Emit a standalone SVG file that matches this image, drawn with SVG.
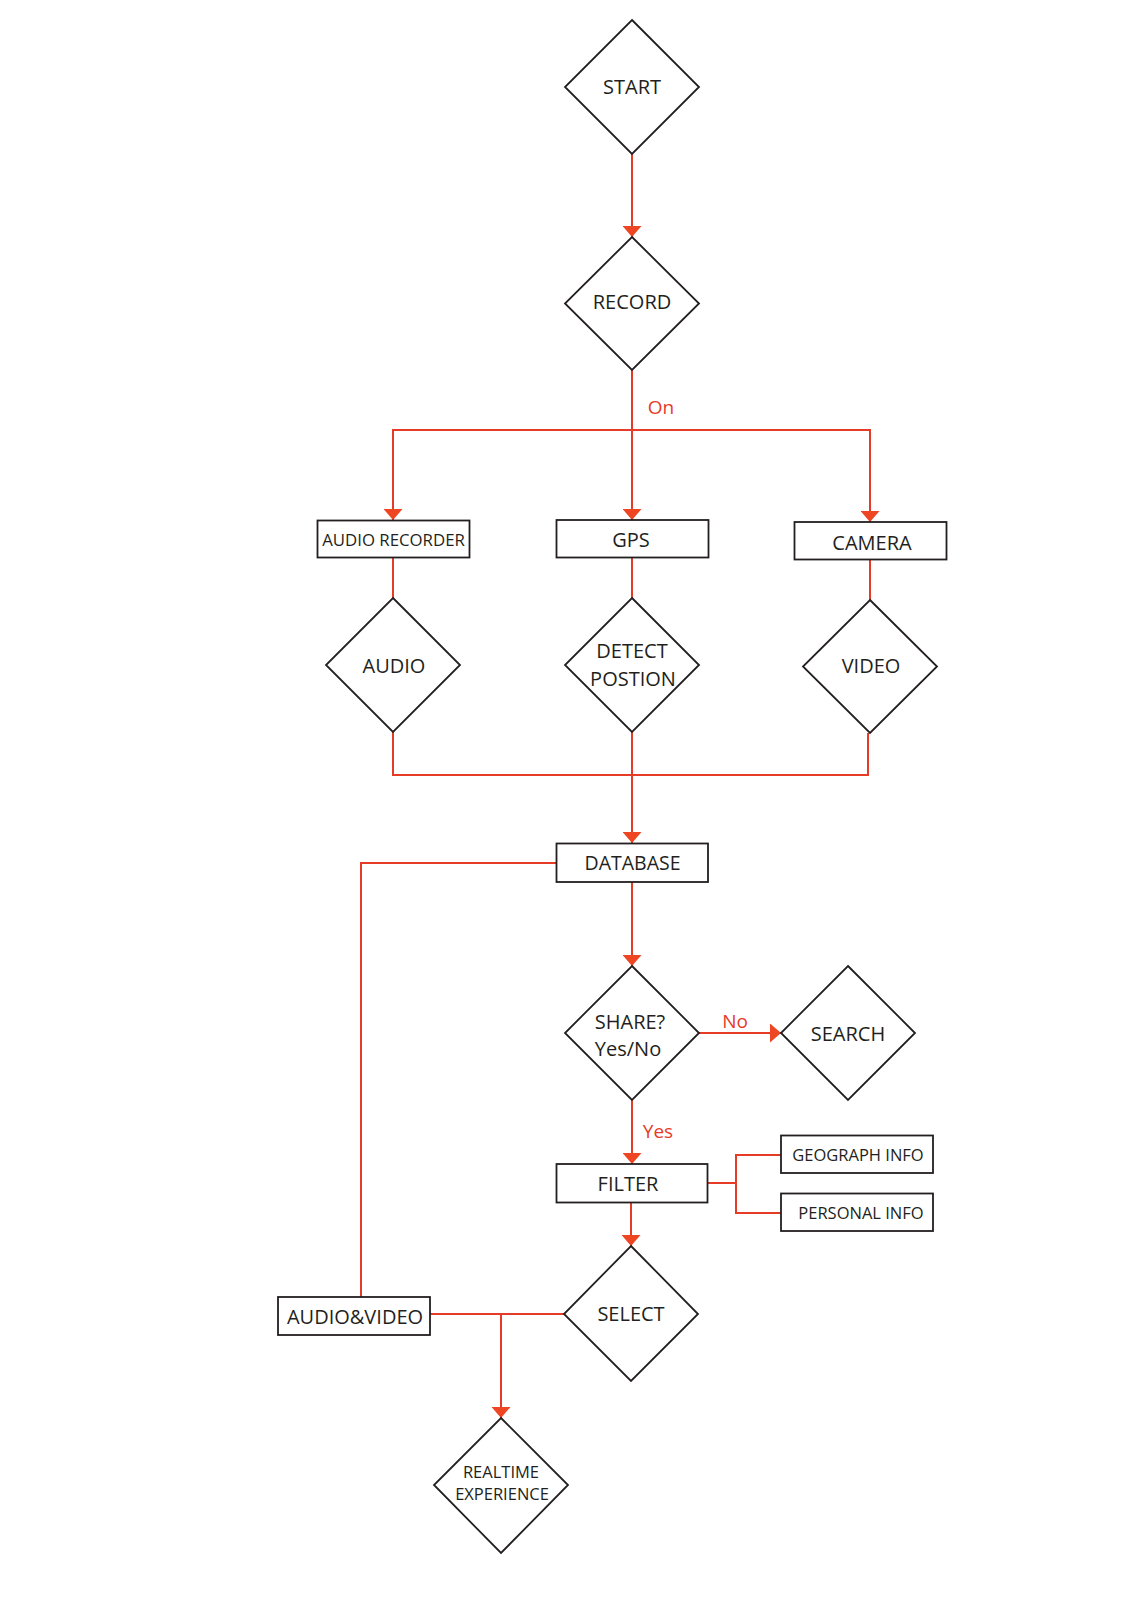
<svg xmlns="http://www.w3.org/2000/svg" width="1131" height="1600" viewBox="0 0 1131 1600">
<style>
.n{fill:#fff;stroke:#231f20;stroke-width:1.8}
.t{font-family:"Open Sans","Noto Sans",sans-serif;fill:#231f20;text-anchor:middle;dominant-baseline:central}
.c{fill:none;stroke:#e63b27;stroke-width:2}
.l{font-family:"Open Sans","Noto Sans",sans-serif;fill:#e63b27;font-size:19px;text-anchor:middle;dominant-baseline:central}
</style>
<defs>
<marker id="ah" viewBox="0 0 11 19" refX="11" refY="9.5" markerWidth="11" markerHeight="19" markerUnits="userSpaceOnUse" orient="auto">
<path d="M0,0 L11,9.5 L0,19 z" fill="#ee4523"/>
</marker>
</defs>
<rect width="1131" height="1600" fill="#fff"/>
<g id="connectors">
<path class="c" d="M632,154 V237" marker-end="url(#ah)"/>
<path class="c" d="M632,370 V520" marker-end="url(#ah)"/>
<path class="c" d="M632,430 H393 V520" marker-end="url(#ah)"/>
<path class="c" d="M632,430 H870 V522" marker-end="url(#ah)"/>
<path class="c" d="M393,557 V598"/>
<path class="c" d="M632,557 V598"/>
<path class="c" d="M870,559 V600"/>
<path class="c" d="M393,732 V775 H868 V733"/>
<path class="c" d="M632,732 V843" marker-end="url(#ah)"/>
<path class="c" d="M556,863 H361 V1297"/>
<path class="c" d="M632,882 V966" marker-end="url(#ah)"/>
<path class="c" d="M699,1033 H781" marker-end="url(#ah)"/>
<path class="c" d="M632,1100 V1164" marker-end="url(#ah)"/>
<path class="c" d="M707,1183 H736"/>
<path class="c" d="M781,1155 H736 V1213 H781"/>
<path class="c" d="M631,1202 V1246" marker-end="url(#ah)"/>
<path class="c" d="M564,1314 H430"/>
<path class="c" d="M501,1314 V1418" marker-end="url(#ah)"/>
</g>
<g id="start"><polygon class="n" points="632,20 699,87 632,154 565,87"/><text class="t" x="632" y="86" font-size="20">START</text></g>
<g id="record"><polygon class="n" points="632,237 699,303.5 632,370 565,303.5"/><text class="t" x="632" y="301" font-size="20">RECORD</text></g>
<text class="l" x="661" y="407">On</text>
<g id="audio-recorder"><rect class="n" x="317.5" y="520.5" width="152" height="37"/><text class="t" x="393.5" y="539" font-size="16.8">AUDIO RECORDER</text></g>
<g id="gps"><rect class="n" x="556.5" y="520" width="152" height="37.5"/><text class="t" x="631" y="539.5" font-size="20">GPS</text></g>
<g id="camera"><rect class="n" x="794.5" y="522" width="152" height="37.5"/><text class="t" x="872" y="542" font-size="20">CAMERA</text></g>
<g id="audio"><polygon class="n" points="393,598 460,665 393,732 326,665"/><text class="t" x="394" y="665" font-size="20">AUDIO</text></g>
<g id="detect-position"><polygon class="n" points="632,598 699,665 632,732 565,665"/><text class="t" x="632" y="650" font-size="20">DETECT</text><text class="t" x="633" y="678" font-size="20">POSTION</text></g>
<g id="video"><polygon class="n" points="870,600 937,666.5 870,733 803,666.5"/><text class="t" x="871" y="665.5" font-size="20">VIDEO</text></g>
<g id="database"><rect class="n" x="556.5" y="843.5" width="151.5" height="38.5"/><text class="t" x="632.5" y="862.5" font-size="19.5">DATABASE</text></g>
<g id="share"><polygon class="n" points="632,966 699,1033 632,1100 565,1033"/><text class="t" x="630" y="1021" font-size="20">SHARE?</text><text class="t" x="628" y="1048" font-size="20">Yes/No</text></g>
<text class="l" x="735" y="1021">No</text>
<g id="search"><polygon class="n" points="848,966 915,1033 848,1100 781,1033"/><text class="t" x="848" y="1033" font-size="20">SEARCH</text></g>
<text class="l" x="658" y="1131">Yes</text>
<g id="filter"><rect class="n" x="556.5" y="1164" width="151" height="38.5"/><text class="t" x="628" y="1183" font-size="20">FILTER</text></g>
<g id="geograph-info"><rect class="n" x="781" y="1135.5" width="152" height="37.5"/><text class="t" x="858" y="1154" font-size="16.5">GEOGRAPH INFO</text></g>
<g id="personal-info"><rect class="n" x="781" y="1193.5" width="152" height="37.5"/><text class="t" x="861" y="1212.5" font-size="16.5">PERSONAL INFO</text></g>
<g id="select"><polygon class="n" points="631,1246 698,1314 631,1381 564,1314"/><text class="t" x="631" y="1313" font-size="20">SELECT</text></g>
<g id="audio-video"><rect class="n" x="278" y="1297" width="152" height="38"/><text class="t" x="355" y="1316" font-size="20">AUDIO&amp;VIDEO</text></g>
<g id="realtime-experience"><polygon class="n" points="501,1418 568,1485 501,1553 434,1485"/><text class="t" x="501" y="1471" font-size="16.5">REALTIME</text><text class="t" x="502" y="1493" font-size="16.5">EXPERIENCE</text></g>
</svg>
